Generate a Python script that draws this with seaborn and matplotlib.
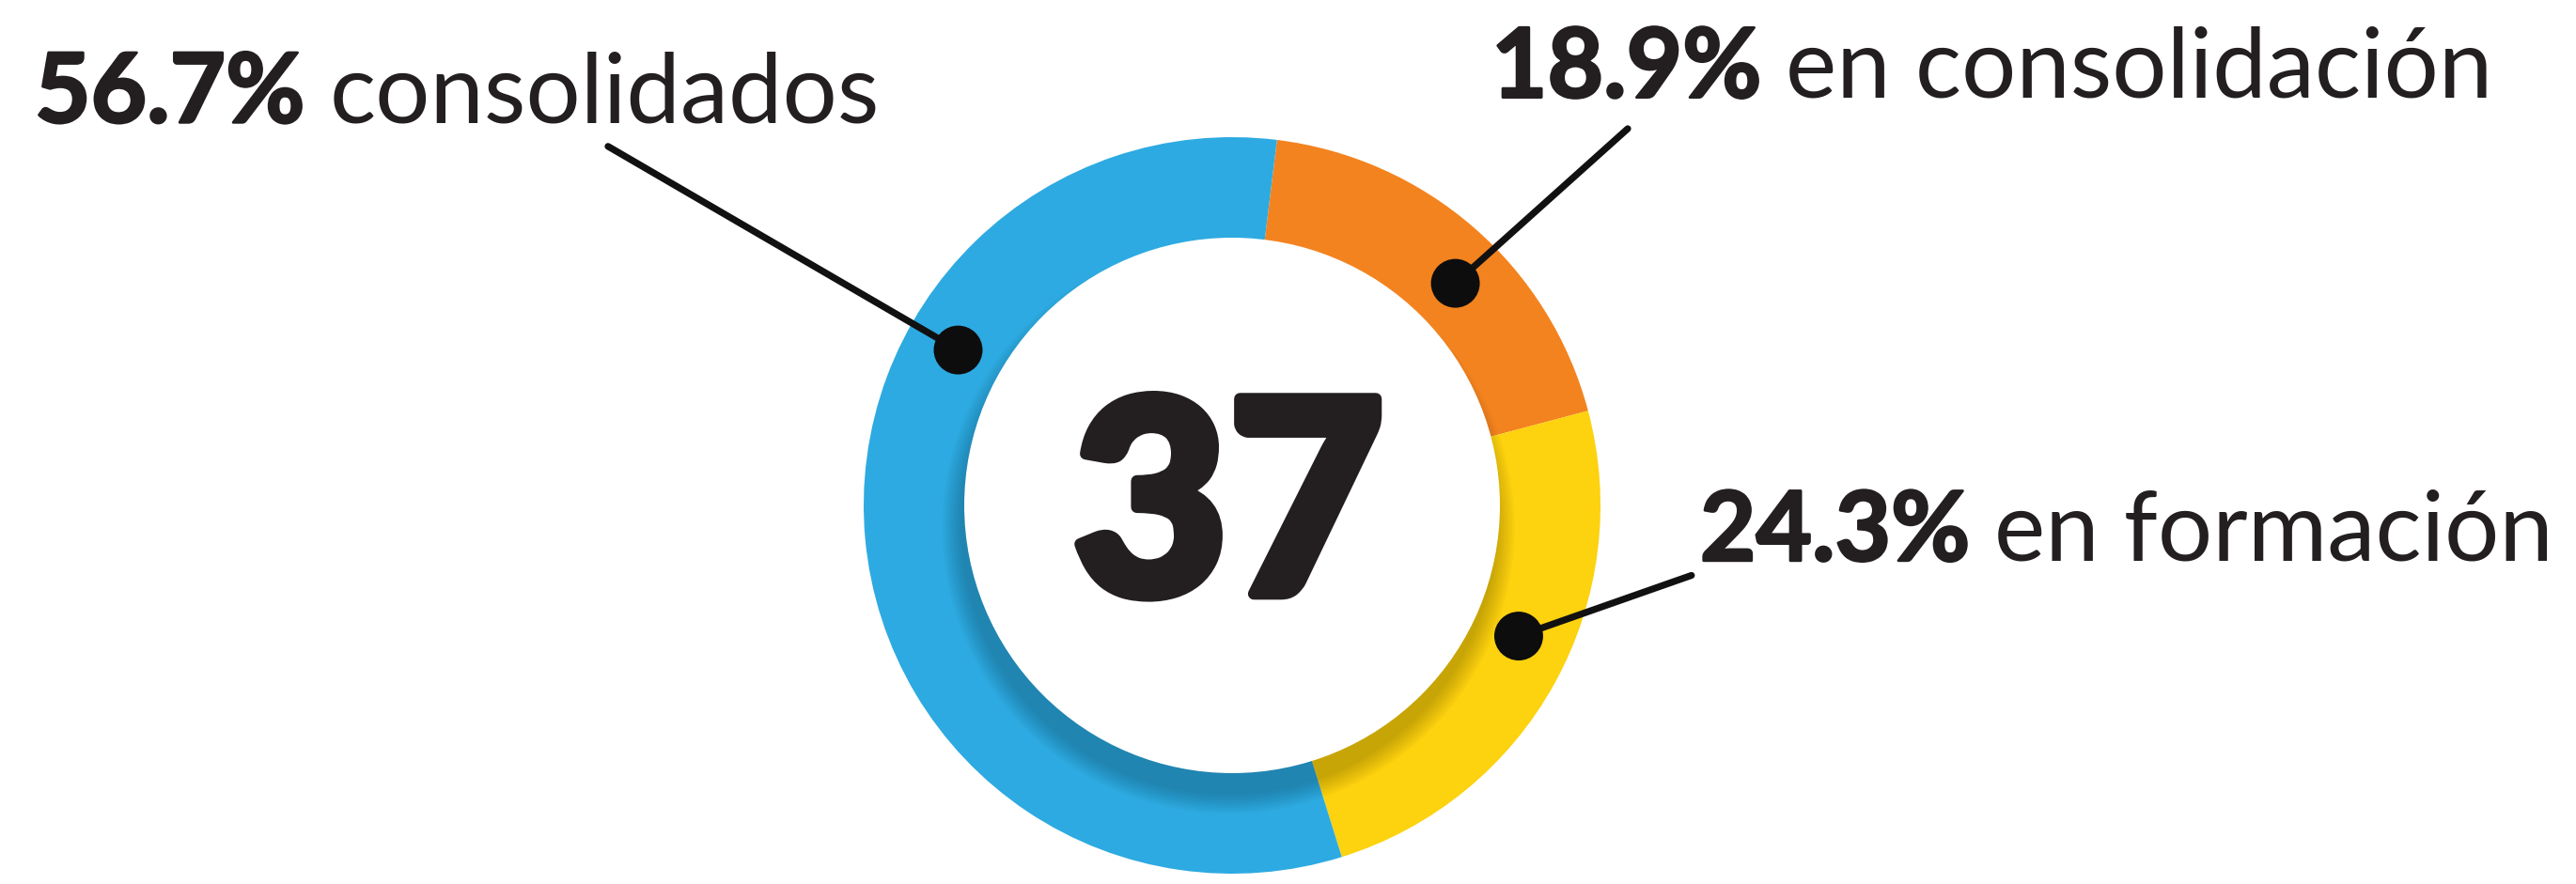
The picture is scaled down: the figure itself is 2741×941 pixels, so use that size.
import matplotlib
matplotlib.use("Agg")
import matplotlib.pyplot as plt
import matplotlib.patheffects as pe
from matplotlib.patches import Circle
import seaborn as sns
import numpy as np

# Data
categories = ["en consolidación", "en formación", "consolidados"]
shares = [18.9, 24.3, 56.7]
colors = ["#F3831F", "#FDD20E", "#2DAAE1"]
total_groups = "37"

# labels: (text x, text baseline y, line end x, line end y, dot position inside wedge)
label_pos = {
    "consolidados": (-3.250, 1.040, -1.694, 0.975, 0.33),
    "en consolidación": (0.704, 1.108, 1.074, 1.023, 0.44),
    "en formación": (1.270, -0.150, 1.247, -0.190, 0.55),
}

sns.set_theme(style="white")
plt.rcParams["font.family"] = ["Lato", "DejaVu Sans"]

W, H = 2741, 941
R = 392.0  # outer radius in px
cx, cy = 1311, 538  # centre in px (from top)

fig = plt.figure(figsize=(W / 100, H / 100), dpi=100)
ax = fig.add_axes([0, 0, 1, 1])

wedges, _ = ax.pie(shares, colors=colors, startangle=83, counterclock=False,
                   radius=1, wedgeprops=dict(linewidth=0, antialiased=True))

# soft drop shadow of the inner disc (falls downward)
outer = Circle((0, 0), 1, transform=ax.transData, facecolor="none", edgecolor="none")
ax.add_patch(outer)
inner_r = 0.727
for i in range(8):
    sh = Circle((-0.01, -0.06), inner_r + 0.007 * i, facecolor="black",
                alpha=0.026, edgecolor="none", zorder=2)
    ax.add_patch(sh)
    sh.set_clip_path(outer)
ax.add_patch(Circle((0, 0), inner_r, facecolor="white", edgecolor="none", zorder=3))

ax.text(-0.01, -0.24, total_groups, ha="center", va="baseline", fontsize=206,
        fontweight="black", color="#231F20", zorder=4,
        path_effects=[pe.withStroke(linewidth=9, foreground="#231F20")])

# dots and leader lines
dot_x, dot_y = [], []
for w, cat in zip(wedges, categories):
    tx, ty, lx, ly, frac = label_pos[cat]
    ang = np.deg2rad(w.theta1 + frac * (w.theta2 - w.theta1))
    x, y = 0.855 * np.cos(ang), 0.855 * np.sin(ang)
    dot_x.append(x)
    dot_y.append(y)
    ax.plot([x, lx], [y, ly], color="#111111", lw=5.2, solid_capstyle="round", zorder=5)

sns.scatterplot(x=dot_x, y=dot_y, s=1400, color="#0D0D0D", edgecolor="none",
                zorder=6, ax=ax, legend=False)

# labels: bold percentage followed by regular text
fig.canvas.draw()
renderer = fig.canvas.get_renderer()
inv = ax.transData.inverted()
for share, cat in zip(shares, categories):
    tx, ty, lx, ly, frac = label_pos[cat]
    t = ax.text(tx, ty, f"{share}%", ha="left", va="baseline", fontsize=74,
                fontweight="bold", color="#231F20", zorder=7,
                path_effects=[pe.withStroke(linewidth=2, foreground="#231F20")])
    bb = t.get_window_extent(renderer=renderer)
    x_end = inv.transform((bb.x1, bb.y0))[0]
    ax.text(x_end + 0.035, ty, cat, ha="left", va="baseline", fontsize=74,
            fontweight="normal", color="#231F20", zorder=7)

ax.set_xlim(-cx / R, (W - cx) / R)
ax.set_ylim(-(H - cy) / R, cy / R)
ax.set_aspect("auto")
ax.axis("off")

fig.savefig("out.png", dpi=100, facecolor="white")
